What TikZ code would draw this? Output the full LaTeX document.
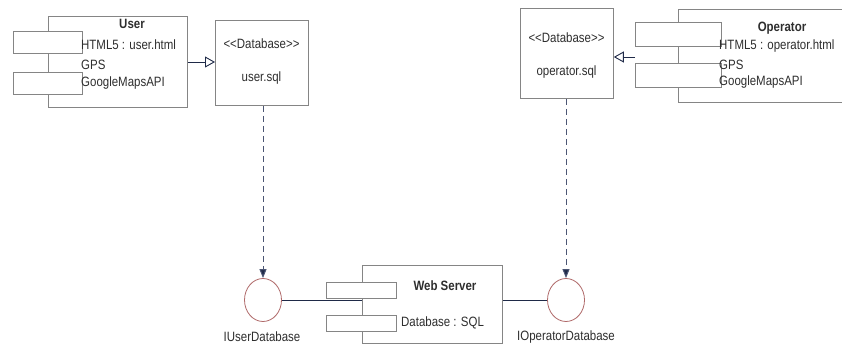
\documentclass[tikz,border=0pt]{standalone}
\usepackage{fontspec}
\setmainfont{Liberation Sans}[FakeStretch=0.85]
\usetikzlibrary{arrows.meta,shapes.geometric}
\definecolor{boxline}{HTML}{858585}
\definecolor{txt}{HTML}{2E2E2E}
\definecolor{navy}{HTML}{1F2A48}
\definecolor{dashc}{HTML}{4B5573}
\definecolor{ifc}{HTML}{B06A6A}
\begin{document}
\begin{tikzpicture}[x=1pt,y=-1pt,
  comp/.style={draw=boxline,line width=0.8pt,fill=white,anchor=north west,inner sep=0pt},
  tab/.style={draw=boxline,line width=0.8pt,fill=white,anchor=north west,inner sep=0pt},
  lbl/.style={text=txt,font=\fontsize{13.5}{15}\selectfont,inner sep=0pt},
  blbl/.style={text=txt,font=\fontsize{13.5}{15}\selectfont\bfseries,inner sep=0pt},
  iface/.style={ellipse,draw=ifc,line width=0.8pt,fill=white,minimum width=37pt,minimum height=43pt,inner sep=0pt},
  conn/.style={draw=navy,line width=0.9pt},
  gen/.style={conn,-{Triangle[open,width=11pt,length=10pt]}},
  dep/.style={draw=dashc,line width=1pt,dash pattern=on 6pt off 4pt,-{Triangle[width=7pt,length=9pt,fill=navy]}}
]
\useasboundingbox[fill=white] (0,0) rectangle (842,350);

% User component
\node[comp,minimum width=139pt,minimum height=91pt] (user) at (48,16) {};
\node[tab,minimum width=69pt,minimum height=22pt] (ut1) at (13,31) {};
\node[tab,minimum width=69pt,minimum height=22pt] (ut2) at (13,72) {};
\node[blbl] (utitle) at (132,24) {User};
\node[lbl,anchor=west] (u1) at (81,44.5) {HTML5 : user.html};
\node[lbl,anchor=west] (u2) at (81,65) {GPS};
\node[lbl,anchor=west] (u3) at (81,83) {GoogleMapsAPI};

% user.sql
\node[comp,minimum width=93pt,minimum height=85pt] (usql) at (215,20) {};
\node[lbl] (us1) at (261.5,44) {<{}<Database>{}>};
\node[lbl] (us2) at (261.5,78) {user.sql};

% Operator component
\node[comp,minimum width=170pt,minimum height=93pt] (op) at (678,9) {};
\node[tab,minimum width=86pt,minimum height=24pt] (ot1) at (635,22) {};
\node[tab,minimum width=86pt,minimum height=24pt] (ot2) at (635,63) {};
\node[blbl] (otitle) at (782,28) {Operator};
\node[lbl,anchor=west] (o1) at (719,46) {HTML5 : operator.html};
\node[lbl,anchor=west] (o2) at (719,65) {GPS};
\node[lbl,anchor=west] (o3) at (719,82) {GoogleMapsAPI};
\coordinate (ostart) at (635,57);

% operator.sql
\node[comp,minimum width=93pt,minimum height=90pt] (osql) at (520,8) {};
\node[lbl] (os1) at (566.5,38) {<{}<Database>{}>};
\node[lbl] (os2) at (566.5,72) {operator.sql};

% Web Server
\node[comp,minimum width=140pt,minimum height=78pt] (web) at (362,265) {};
\node[tab,minimum width=70pt,minimum height=16pt] (wt1) at (326,282) {};
\node[tab,minimum width=70pt,minimum height=16pt] (wt2) at (326,315) {};
\node[blbl] (wtitle) at (445,286) {Web Server};
\node[lbl,anchor=west] (w1) at (401,322.5) {Database : SQL};

% Interfaces
\node[iface] (iu) at (263,300) {};
\node[iface] (io) at (566,300) {};
\node[lbl] (iul) at (262,337) {IUserDatabase};
\node[lbl] (iol) at (566,337) {IOperatorDatabase};

% Connectors
\draw[gen] (user.east |- 0,62) -- (usql.west |- 0,62);
\draw[gen] (ostart) -- (osql.east |- ostart);
\draw[dep] (usql.south -| iu.north) -- (iu.north);
\draw[dep] (osql.south -| io.north) -- (io.north);
\draw[conn] (iu.east) -- (iu.east -| web.west);
\draw[conn] (io.west) -- (io.west -| web.east);
\end{tikzpicture}
\end{document}
